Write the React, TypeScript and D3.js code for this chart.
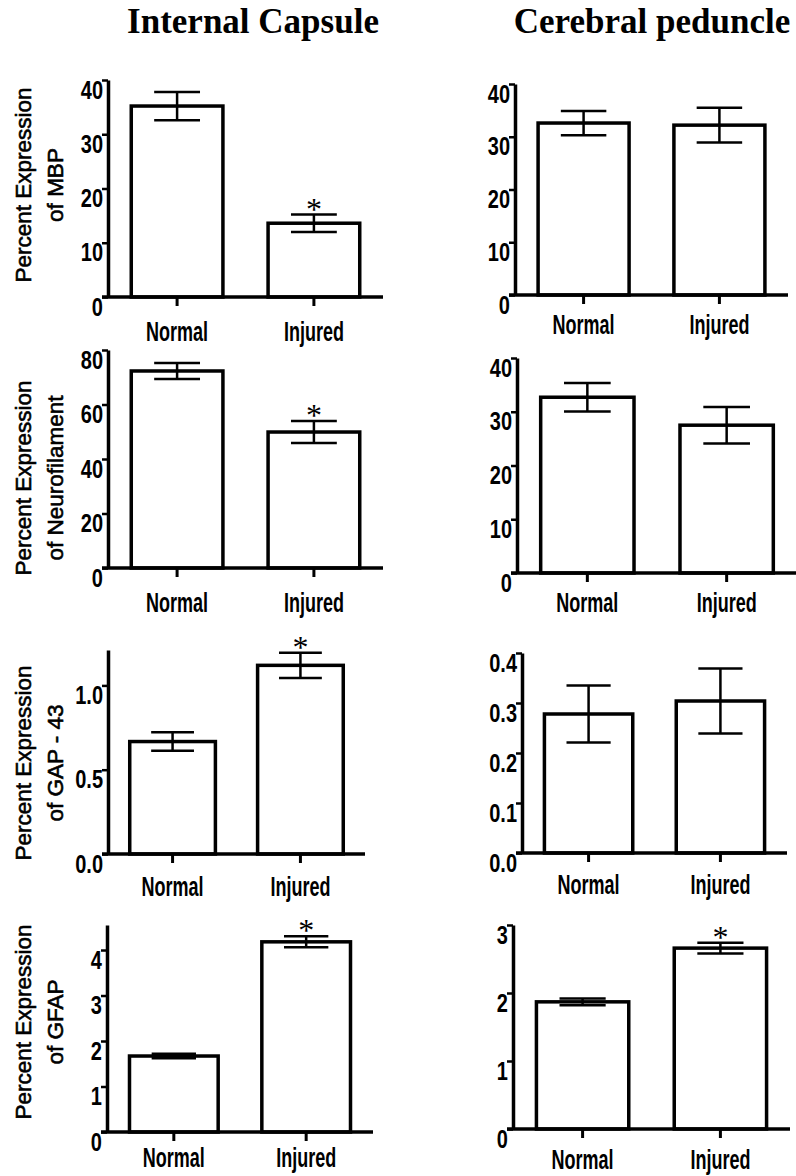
import React, { useEffect, useRef } from 'react'
import * as d3 from 'd3'

const categories = ['Normal', 'Injured']
const regions = ['Internal Capsule', 'Cerebral peduncle']
const markers = ['MBP', 'Neurofilament', 'GAP - 43', 'GFAP']

// internal capsule: mean and sem for Normal, Injured
const icMean = [[35.2, 13.6], [72.3, 49.9], [0.667, 1.119], [1.67, 4.18]]
const icSem = [[2.6, 1.6], [2.9, 4.0], [0.055, 0.075], [0.05, 0.12]]
const icSig = [[false, true], [false, true], [false, true], [false, true]]

// cerebral peduncle
const cpMean = [[32.6, 32.2], [32.7, 27.5], [0.278, 0.304], [1.87, 2.66]]
const cpSem = [[2.3, 3.3], [2.65, 3.4], [0.057, 0.065], [0.05, 0.08]]
const cpSig = [[false, false], [false, false], [false, false], [false, true]]

const icMax = [40, 80, 1.21, 4.55]
const cpMax = [40, 40, 0.4, 3]
const icTicks = [[0, 10, 20, 30, 40], [0, 20, 40, 60, 80], [0, 0.5, 1.0], [0, 1, 2, 3, 4]]
const cpTicks = [[0, 10, 20, 30, 40], [0, 10, 20, 30, 40], [0, 0.1, 0.2, 0.3, 0.4], [0, 1, 2, 3]]
const tickFormats = ['d', 'd', '.1f', 'd']

// panel placement, [row][col]
const layout = [
  [{ axisX: 108, top: 80, base: 297, xEnd: 383, gap: 25 }, { axisX: 515, top: 84, base: 295, xEnd: 788, gap: 20 }],
  [{ axisX: 108, top: 350, base: 568, xEnd: 383, gap: 25 }, { axisX: 517, top: 358, base: 573, xEnd: 797, gap: 20 }],
  [{ axisX: 108, top: 650, base: 854, xEnd: 365, gap: 23 }, { axisX: 522, top: 653, base: 853, xEnd: 787, gap: 22 }],
  [{ axisX: 107, top: 925, base: 1132, xEnd: 373, gap: 16 }, { axisX: 513, top: 925, base: 1129, xEnd: 790, gap: 21 }],
]
const titleCy = [185, 478, 763, 1022]

const SANS = '"Liberation Sans", Arial, sans-serif'
const SERIF = '"Liberation Serif", "Times New Roman", serif'

export default function App() {
  const ref = useRef<SVGSVGElement>(null)

  useEffect(() => {
    const svg = d3.select(ref.current)
    svg.selectAll('*').remove()

    // column headings
    svg
      .selectAll('text.heading')
      .data(regions)
      .join('text')
      .attr('class', 'heading')
      .attr('x', (d, i) => (i === 0 ? 253 : 652))
      .attr('y', 33)
      .attr('text-anchor', 'middle')
      .attr('font-family', SERIF)
      .attr('font-weight', 'bold')
      .attr('font-size', 35)
      .text((d) => d)

    regions.forEach((region, c) => {
      markers.forEach((marker, r) => {
        const L = layout[r][c]
        const mean = c === 0 ? icMean[r] : cpMean[r]
        const sem = c === 0 ? icSem[r] : cpSem[r]
        const sig = c === 0 ? icSig[r] : cpSig[r]
        const yMax = c === 0 ? icMax[r] : cpMax[r]
        const ticks = c === 0 ? icTicks[r] : cpTicks[r]

        const x = d3
          .scaleBand()
          .domain(categories)
          .range([L.axisX, L.xEnd])
          .paddingInner(0.33)
          .paddingOuter(0.17)
        const y = d3.scaleLinear().domain([0, yMax]).range([L.base, L.top])
        const bw = x.bandwidth()
        const cx = (d) => x(d) + bw / 2

        const g = svg.append('g')

        // bars
        g.selectAll('rect')
          .data(categories)
          .join('rect')
          .attr('x', (d) => x(d))
          .attr('y', (d, i) => y(mean[i]))
          .attr('width', bw)
          .attr('height', (d, i) => y(0) - y(mean[i]))
          .attr('fill', '#fff')
          .attr('stroke', '#000')
          .attr('stroke-width', 3.5)

        // error bars
        const err = g.append('g').attr('stroke', '#000').attr('stroke-width', 2.5)
        categories.forEach((d, i) => {
          const hi = y(mean[i] + sem[i])
          const lo = y(mean[i] - sem[i])
          err.append('line').attr('x1', cx(d)).attr('x2', cx(d)).attr('y1', hi).attr('y2', lo)
          ;[hi, lo].forEach((yy) => {
            err
              .append('line')
              .attr('x1', cx(d) - bw * 0.25)
              .attr('x2', cx(d) + bw * 0.25)
              .attr('y1', yy)
              .attr('y2', yy)
          })
          if (sig[i]) {
            g.append('text')
              .attr('x', cx(d))
              .attr('y', hi + 5)
              .attr('text-anchor', 'middle')
              .attr('font-family', SERIF)
              .attr('font-size', 32)
              .text('*')
          }
        })

        // y axis
        const ya = g
          .append('g')
          .attr('transform', `translate(${L.axisX},0)`)
          .call(
            d3
              .axisLeft(y)
              .tickValues(ticks)
              .tickSize(6)
              .tickSizeOuter(0)
              .tickFormat(d3.format(tickFormats[r])),
          )
        ya.select('.domain').attr('stroke-width', 3.5)
        ya.selectAll('.tick line').attr('stroke-width', 2.5)
        ya.selectAll('.tick text')
          .attr('x', null)
          .attr('dy', null)
          .attr('transform', 'translate(-5,18) scale(0.8,1.06)')
          .attr('font-family', SANS)
          .attr('font-weight', 'bold')
          .attr('font-size', 25)
          .attr('fill', '#000')

        // x axis
        g.append('line')
          .attr('x1', L.axisX - 6)
          .attr('x2', L.xEnd)
          .attr('y1', L.base)
          .attr('y2', L.base)
          .attr('stroke', '#000')
          .attr('stroke-width', 3.5)
        g.selectAll('line.xtick')
          .data(categories)
          .join('line')
          .attr('class', 'xtick')
          .attr('x1', cx)
          .attr('x2', cx)
          .attr('y1', L.base)
          .attr('y2', L.base + 9)
          .attr('stroke', '#000')
          .attr('stroke-width', 3)
        g.selectAll('text.cat')
          .data(categories)
          .join('text')
          .attr('class', 'cat')
          .attr('transform', (d) => `translate(${cx(d)},${L.base + L.gap + 19}) scale(0.667,1)`)
          .attr('text-anchor', 'middle')
          .attr('font-family', SANS)
          .attr('font-weight', 'bold')
          .attr('font-size', 27)
          .text((d) => d)

        // y title, left column only
        if (c === 0) {
          const lines = ['Percent Expression', `of ${marker}`]
          g.selectAll('text.ytitle')
            .data(lines)
            .join('text')
            .attr('class', 'ytitle')
            .attr('transform', (d, i) => `translate(${i === 0 ? 31 : 63},${titleCy[r]}) rotate(-90)`)
            .attr('text-anchor', 'middle')
            .attr('font-family', SANS)
            .attr('font-size', 22.5)
            .attr('stroke', '#000')
            .attr('stroke-width', 0.6)
            .text((d) => d)
        }
      })
    })
  }, [])

  return (
    <div style={{ position: 'absolute', left: 0, top: 0, background: '#fff' }}>
      <svg ref={ref} width={796} height={1176} />
    </div>
  )
}
